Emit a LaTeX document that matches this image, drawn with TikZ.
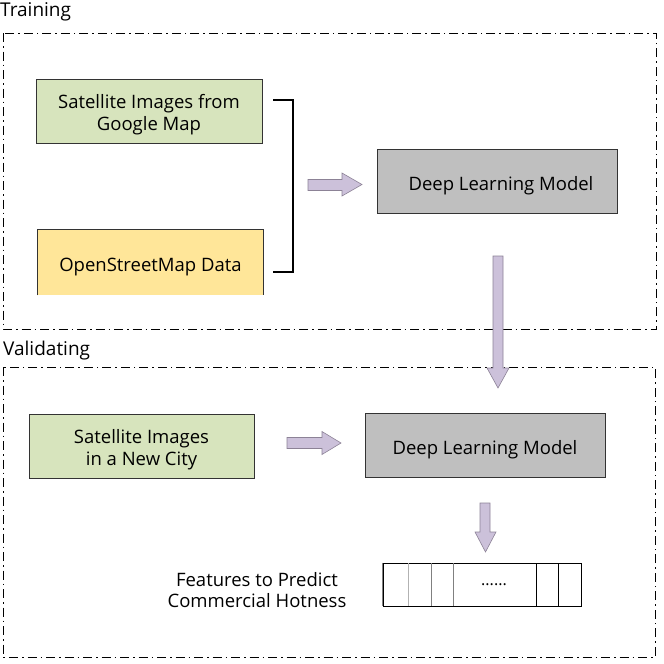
\documentclass[tikz,border=0pt]{standalone}
\usepackage{fontspec}
\setmainfont{Open Sans}
\usetikzlibrary{positioning}
\definecolor{boxgreen}{HTML}{D7E4BD}
\definecolor{boxyellow}{HTML}{FFE699}
\definecolor{boxgray}{HTML}{BFBFBF}
\definecolor{arrfill}{HTML}{CCC1DA}
\definecolor{arrdraw}{HTML}{8C8296}
\tikzset{
  frame/.style={draw=black, line width=1pt, dash pattern=on 9pt off 4pt on 1.5pt off 4pt},
  inbox/.style={draw=black!80, line width=0.7pt, minimum width=226pt, minimum height=64pt,
    align=center, inner sep=0pt, font=\fontsize{18.5}{22}\selectfont},
  oneline/.style={text height=22pt, text depth=4pt},
  twoline/.style={text height=42pt, text depth=4pt},
  modelbox/.style={inbox, oneline, fill=boxgray, minimum width=240pt},
  blockarr/.style={fill=arrfill, draw=arrdraw, line width=0.6pt},
  title/.style={anchor=west, font=\fontsize{19}{22}\selectfont, inner sep=0pt},
  cell/.style={draw=gray, line width=0.6pt}
}
\begin{document}
\begin{tikzpicture}[x=1pt,y=-1pt]
\useasboundingbox (0,0) rectangle (664,664);
% titles
\node[title] (ttrain) at (0,12) {Training};
\node[title] (tval) at (3,351) {Validating};
% frames
\draw[frame] (3,33) rectangle (656,329);
\draw[frame] (3,367) rectangle (655,657);
% training boxes
\node[inbox, twoline, fill=boxgreen] (g1) at (149,111) {Satellite Images from\\Google Map};
\node[inbox, oneline, fill=boxyellow, draw=none, minimum width=225pt, minimum height=65pt] (y1) at (150.5,262.5) {OpenStreetMap Data};
\draw[black!80, line width=0.7pt] (y1.south west) -- (y1.north west) -- (y1.north east) -- (y1.south east);
\node[modelbox] (dlm1) at (497,181) {\hspace*{8pt}Deep Learning Model};
% bracket
\coordinate (b1) at (273,100);
\coordinate (b2) at (273,272);
\draw[black, line width=1.4pt] (b1) -- (293,100) -- (293,272) -- (b2);
% arrow right 1
\draw[blockarr] (308,179.5) -- (342,179.5) -- (342,173) -- (362,184.5) -- (342,196) -- (342,190.5) -- (308,190.5) -- cycle;
% arrow down 1
\draw[blockarr] (493,256) -- (503,256) -- (503,368) -- (509,368) -- (498,388) -- (487,368) -- (493,368) -- cycle;
% validating boxes
\node[inbox, twoline, fill=boxgreen, minimum width=225pt] (g2) at (141.5,446) {Satellite Images\\in a New City};
\node[modelbox] (dlm2) at (485,445) {Deep Learning Model};
% arrow right 2
\draw[blockarr] (287,437.5) -- (322,437.5) -- (322,431.5) -- (341,443) -- (322,454.5) -- (322,448.5) -- (287,448.5) -- cycle;
% arrow down 2
\draw[blockarr] (480,503) -- (490,503) -- (490,532) -- (496,532) -- (485.5,552) -- (475,532) -- (480,532) -- cycle;
% features label
\node[align=center, inner sep=0pt, font=\fontsize{18.5}{21}\selectfont] (feat) at (257,590) {Features to Predict\\Commercial Hotness};
% feature bar
\node[draw=black, line width=0.8pt, minimum width=198pt, minimum height=43pt, inner sep=0pt] (bar) at (482,584.5) {};
\draw[gray, line width=1.2pt] (bar.north west) -- (bar.south west);
\draw[cell, draw=black!30] (408,563) -- (408,606);
\draw[cell] (431,563) -- (431,606);
\draw[cell] (453,563) -- (453,606);
\draw[cell, draw=black] (536,563) -- (536,606);
\draw[cell, draw=black] (558,563) -- (558,606);
\node[font=\fontsize{16}{18}\selectfont, inner sep=0pt] (dots) at (494,585) {......};
\end{tikzpicture}
\end{document}
